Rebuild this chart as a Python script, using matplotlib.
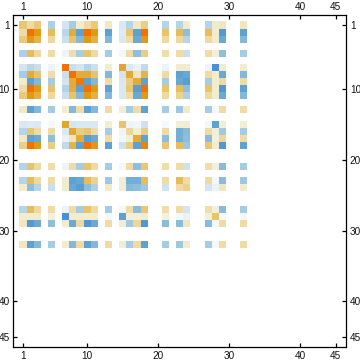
import numpy as np
import matplotlib
matplotlib.use("Agg")
import matplotlib.pyplot as plt
from matplotlib.colors import LinearSegmentedColormap

tick_values = [1, 10, 20, 30, 40, 45]
matrix_size = 46
active = [1, 2, 3, 5, 7, 8, 9, 10, 11, 13, 15, 16, 17, 18, 21, 23, 24, 27, 28, 29, 32]

# upper triangle of the symmetric matrix, each row starting on the diagonal
row_1 = [.48, .3, .45, -.38, -.2, -.42, .15, .3, .45, .18, -.18, -.35, .18, .4, -.35, -.35, .15, -.35, .14, .2, .2]
row_2 = [1, .8, .55, -.33, .65, -.75, 1, .8, -.75, -.15, .48, -.75, 1, .5, .55, -.55, .55, .14, -.85, -.75]
row_3 = [.6, .32, -.25, .5, -.6, .8, .62, -.6, -.18, .3, -.7, .8, .32, .32, -.35, .32, .14, -.7, -.6]
row_5 = [.3, -.07, .28, -.42, .5, .32, -.42, -.03, .3, -.55, .42, .28, .3, -.25, .3, .1, -.55, -.42]
row_7 = [1, -.25, -.2, -.35, -.25, .12, .7, -.17, -.1, -.3, -.07, .14, .14, -.07, -.95, .14, .14]
row_8 = [1, .65, .65, .5, -.6, -.2, .68, .22, .6, .3, -.75, -.72, .3, .14, -.7, -.6]
row_9 = [.95, -.75, -.6, .3, -.17, .42, .65, -.75, -.42, -.72, -.8, -.42, .14, .32, .3]
row_10 = [1, .8, -.75, -.17, .48, -.8, 1, .5, .55, -.55, .5, .14, -.88, -.75]
row_11 = [.62, -.6, -.18, .3, -.7, .8, .32, .38, -.38, .32, .14, -.7, -.6]
row_13 = [.3, .12, -.42, .3, -.75, -.42, -.46, .16, -.42, -.03, .3, .3]
row_15 = [.5, -.07, -.05, -.23, -.03, .12, .12, -.03, -.75, .12, .12]
row_16 = [.35, .13, .42, .3, -.67, -.58, .3, .1, -.45, -.42]
row_17 = [.65, -.75, -.55, -.67, -.55, -.57, .1, .35, .3]
row_18 = [.9, .47, .55, -.46, .47, .15, -.88, -.75]
row_21 = [.28, .3, -.22, .28, .1, -.57, -.42]
row_23 = [.55, .3, .3, -.03, -.57, -.46]
row_24 = [.38, -.2, -.08, .2, .15]
row_27 = [.28, .1, -.57, -.42]
row_28 = [.5, -.03, -.03]
row_29 = [.3, .3]
row_32 = [.3]
rows = [row_1, row_2, row_3, row_5, row_7, row_8, row_9, row_10, row_11, row_13, row_15,
        row_16, row_17, row_18, row_21, row_23, row_24, row_27, row_28, row_29, row_32]

M = np.full((matrix_size + 1, matrix_size + 1), np.nan)
for i, r in enumerate(rows):
    for j, v in enumerate(r):
        a, b = active[i], active[i + j]
        M[a, b] = v
        M[b, a] = v

nodes = [(-.95, "#4A90D8"), (-.75, "#5FA3D2"), (-.6, "#85B9D9"), (-.45, "#A0C9E2"),
         (-.35, "#B5D5E8"), (-.2, "#D5E6F0"), (-.03, "#F5F9FB"), (.12, "#F3EFD5"),
         (.3, "#F0DCA5"), (.5, "#E9C46A"), (.65, "#E5AC3A"), (.8, "#E19B16"), (1, "#F47000")]
lo, hi = nodes[0][0], nodes[-1][0]
cmap = LinearSegmentedColormap.from_list("td", [((v - lo) / (hi - lo), c) for v, c in nodes])
cmap.set_bad("white")

W, H = 360, 363
fig = plt.figure(figsize=(W / 100, H / 100), dpi=100)
L, R, T, B = 13.4, 346.4, 15.3, 347.3
ax = fig.add_axes([L / W, 1 - B / H, (R - L) / W, (B - T) / H])
ax.imshow(np.ma.masked_invalid(M), cmap=cmap, vmin=lo, vmax=hi, interpolation="nearest",
          aspect="auto", origin="upper")
ax.set_xlim(-0.41, 46.49)
ax.set_ylim(46.48, -0.41)
ax.set_xticks(tick_values)
ax.set_yticks(tick_values)
ax.set_xticklabels([str(t) for t in tick_values])
ax.set_yticklabels([str(t) for t in tick_values])
ax.tick_params(top=True, bottom=True, left=True, right=True,
               labeltop=True, labelbottom=True, labelleft=True, labelright=True,
               direction="in", length=3, width=0.9, pad=2.5, labelsize=7.2, labelcolor="#111111")
for lab in ax.get_xticklabels() + ax.get_yticklabels():
    lab.set_family("Liberation Sans")
for s in ax.spines.values():
    s.set_linewidth(0.9)
fig.savefig("out.png", dpi=100)
